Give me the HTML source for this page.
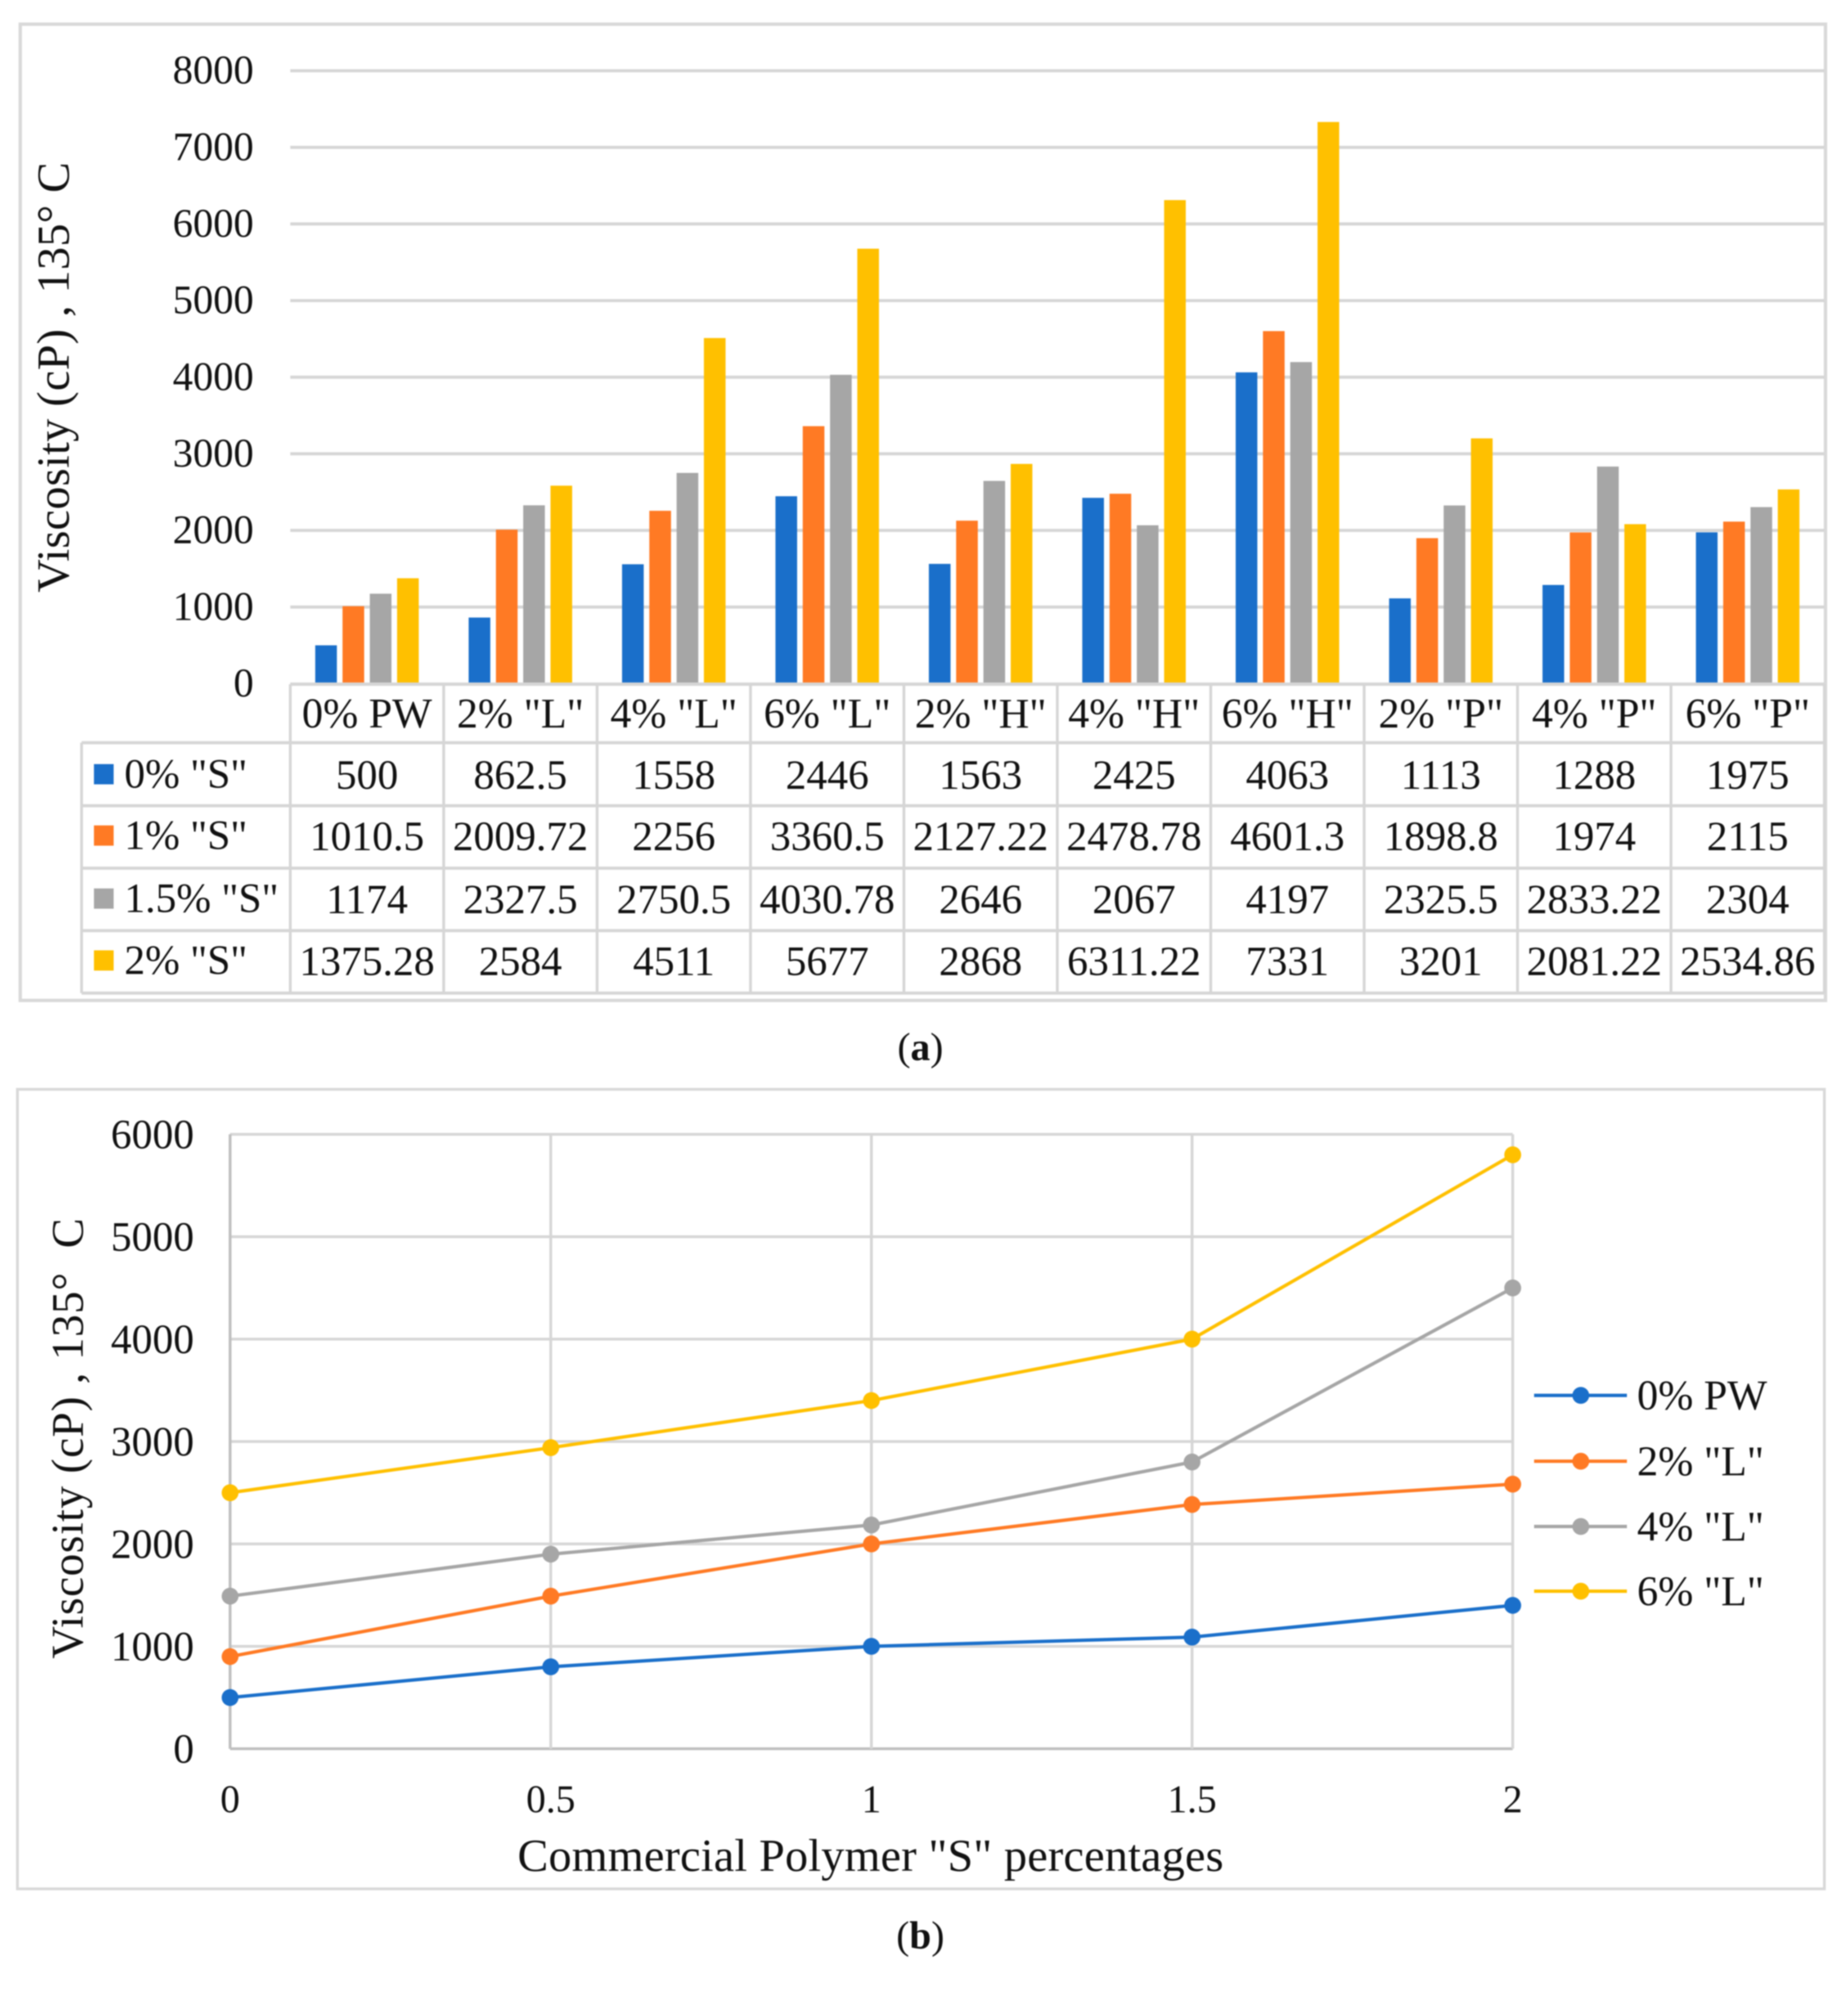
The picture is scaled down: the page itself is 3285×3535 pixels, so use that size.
<!DOCTYPE html>
<html lang="en">
<head>
<meta charset="utf-8">
<title>Viscosity charts</title>
<style>
html,body{margin:0;padding:0;background:#fff;width:3285px;height:3535px;overflow:hidden}
svg{display:block;filter:blur(1.1px)}
text{font-family:"Liberation Serif",serif;fill:#111}
</style>
</head>
<body>
<svg id="figure" xmlns="http://www.w3.org/2000/svg" width="3285" height="3535" viewBox="0 0 3285 3535">
  <rect x="0" y="0" width="3285" height="3535" fill="#fff"/>
  <rect x="36" y="43" width="3209" height="1735" fill="#fff" stroke="#d9d9d9" stroke-width="6"/>
  <rect x="31" y="1936" width="3212" height="1421" fill="#fff" stroke="#d9d9d9" stroke-width="5"/>
  <g id="chart-a"></g>
  <g id="chart-b"></g>
  <text transform="translate(122,1053) rotate(-90)" font-size="82" textLength="765" lengthAdjust="spacing">Viscosity (cP) , 135° C</text>
  <text transform="translate(147,2948) rotate(-90)" font-size="80" textLength="783" lengthAdjust="spacing">Viscosity (cP) , 135°&#160; C</text>
  <text x="920" y="3325" font-size="82" textLength="1255" lengthAdjust="spacing">Commercial Polymer "S" percentages</text>
  <text x="1636" y="1884" font-size="70" text-anchor="middle">(<tspan font-weight="bold">a</tspan>)</text>
  <text x="1636" y="3463" font-size="70" text-anchor="middle">(<tspan font-weight="bold">b</tspan>)</text>
</svg>
<script>
// ---- Chart (a) data ----
const barCategories = ['0% PW','2% "L"','4% "L"','6% "L"','2% "H"','4% "H"','6% "H"','2% "P"','4% "P"','6% "P"'];
const barSeriesNames = ['0% "S"','1% "S"','1.5% "S"','2% "S"'];
const barS0 = [500,862.5,1558,2446,1563,2425,4063,1113,1288,1975];
const barS1 = [1010.5,2009.72,2256,3360.5,2127.22,2478.78,4601.3,1898.8,1974,2115];
const barS15 = [1174,2327.5,2750.5,4030.78,2646,2067,4197,2325.5,2833.22,2304];
const barS2 = [1375.28,2584,4511,5677,2868,6311.22,7331,3201,2081.22,2534.86];
const barTicks = [0,1000,2000,3000,4000,5000,6000,7000,8000];
// ---- Chart (b) data ----
const lineXTicks = [0,0.5,1,1.5,2];
const lineYTicks = [0,1000,2000,3000,4000,5000,6000];
const lineSeriesNames = ['0% PW','2% "L"','4% "L"','6% "L"'];
const linePW = [500,800,1000,1090,1400];
const lineL2 = [900,1490,2000,2385,2584];
const lineL4 = [1490,1900,2185,2800,4500];
const lineL6 = [2500,2940,3400,4000,5800];

const COLORS = ['#1a6fca','#ff7a24','#a6a6a6','#ffc000'];
const GRID = '#d6d6d6';
const NS = 'http://www.w3.org/2000/svg';
function mk(parent, tag, props, txt){
  const n = document.createElementNS(NS, tag);
  for (const k in props) n.setAttribute(k, props[k]);
  if (txt !== undefined) n.textContent = txt;
  parent.appendChild(n);
  return n;
}

// ===== Chart (a) =====
const A = document.getElementById('chart-a');
const aX0 = 516, aX1 = 3243, aY0 = 1215, aYTop = 125.7, aMax = 8000;
const aBand = (aX1 - aX0) / barCategories.length;
const ay = v => aY0 - (v / aMax) * (aY0 - aYTop);
const ax = i => aX0 + aBand * i;
const aRowYs = [1320,1432,1543,1654,1765];
const aBaselines = [1402,1511,1623,1733];
const aSeries = [barS0, barS1, barS15, barS2];

barTicks.forEach(t => {
  if (t > 0) {
    const g = mk(A, 'line', {x1:aX0, x2:aX1, y1:ay(t), y2:ay(t), stroke:GRID, 'stroke-width':5.5});
    
    
  }
  const lab = mk(A, 'text', {x:451, y:ay(t)+23, 'font-size':72, 'text-anchor':'end'}, String(t));
  
  
});

aSeries.forEach((vals, s) => {
  vals.forEach((v, i) => {
    const bw = 38.5, pitch = 48.5;
    const cx = ax(i) + aBand / 2;
    const x = cx - (pitch * 3 + bw) / 2 + pitch * s;
    const b = mk(A, 'rect', {x:x, y:ay(v), width:bw, height:aY0 - ay(v), fill:COLORS[s]});
    
    
  });
});

// table grid
const axisTop = mk(A, 'line', {x1:aX0, x2:aX1, y1:1216, y2:1216, stroke:GRID, 'stroke-width':6});


aRowYs.forEach((y, r) => {
  const l = mk(A, 'line', {x1:145, x2:aX1, y1:y, y2:y, stroke:GRID, 'stroke-width':5.5});
  
  
});
const tableLeft = mk(A, 'line', {x1:145, x2:145, y1:1320, y2:1765, stroke:GRID, 'stroke-width':5});


for (let i = 0; i <= barCategories.length; i++) {
  const l = mk(A, 'line', {x1:ax(i), x2:ax(i), y1:1216, y2:1765, stroke:GRID, 'stroke-width':5});
  
  
}
barCategories.forEach((c, i) => {
  const t = mk(A, 'text', {x:ax(i) + aBand/2, y:1293, 'font-size':75, 'text-anchor':'middle'}, c);
  
  
});
barSeriesNames.forEach((n, s) => {
  const base = aBaselines[s];
  const sw = mk(A, 'rect', {x:167, y:base - 44, width:35, height:36, fill:COLORS[s]});
  
  
  const lb = mk(A, 'text', {x:221, y:base - 2, 'font-size':74}, n);
  
  
  aSeries[s].forEach((v, i) => {
    const t = mk(A, 'text', {x:ax(i) + aBand/2, y:base, 'font-size':74, 'text-anchor':'middle'}, String(v));
    
    
  });
});

// ===== Chart (b) =====
const B = document.getElementById('chart-b');
const bX0 = 409, bX1 = 2689, bY0 = 3108, bYTop = 2016, bXMax = 2, bYMax = 6000;
const bx = v => bX0 + (v / bXMax) * (bX1 - bX0);
const by = v => bY0 - (v / bYMax) * (bY0 - bYTop);
lineYTicks.forEach(t => {
  const g = mk(B, 'line', {x1:bX0, x2:bX1, y1:by(t), y2:by(t), stroke:t === 0 ? '#bfbfbf' : GRID, 'stroke-width':5});
  
  
  const lab = mk(B, 'text', {x:345, y:by(t)+25, 'font-size':74, 'text-anchor':'end'}, String(t));
  
  
});
lineXTicks.forEach(t => {
  const g = mk(B, 'line', {x1:bx(t), x2:bx(t), y1:bYTop, y2:bY0, stroke:t === 0 ? '#bfbfbf' : GRID, 'stroke-width':5});
  
  
  const lab = mk(B, 'text', {x:bx(t), y:3221, 'font-size':70, 'text-anchor':'middle'}, String(t));
  
  
});
const bSeries = [linePW, lineL2, lineL4, lineL6];
const legendYs = [2480,2597,2713,2828];
bSeries.forEach((vals, s) => {
  const pts = vals.map((v, i) => bx(lineXTicks[i]) + ',' + by(v)).join(' ');
  const pl = mk(B, 'polyline', {points:pts, fill:'none', stroke:COLORS[s], 'stroke-width':6, 'stroke-linejoin':'round'});
  
  
  vals.forEach((v, i) => {
    const c = mk(B, 'circle', {cx:bx(lineXTicks[i]), cy:by(v), r:15, fill:COLORS[s]});
    
    
  });
  const ly = legendYs[s];
  const ll = mk(B, 'line', {x1:2727, x2:2892, y1:ly, y2:ly, stroke:COLORS[s], 'stroke-width':6});
  
  
  const lc = mk(B, 'circle', {cx:2810, cy:ly, r:15, fill:COLORS[s]});
  
  
  const lt = mk(B, 'text', {x:2910, y:ly + 25, 'font-size':75}, lineSeriesNames[s]);
  
  
});
</script>
</body>
</html>
